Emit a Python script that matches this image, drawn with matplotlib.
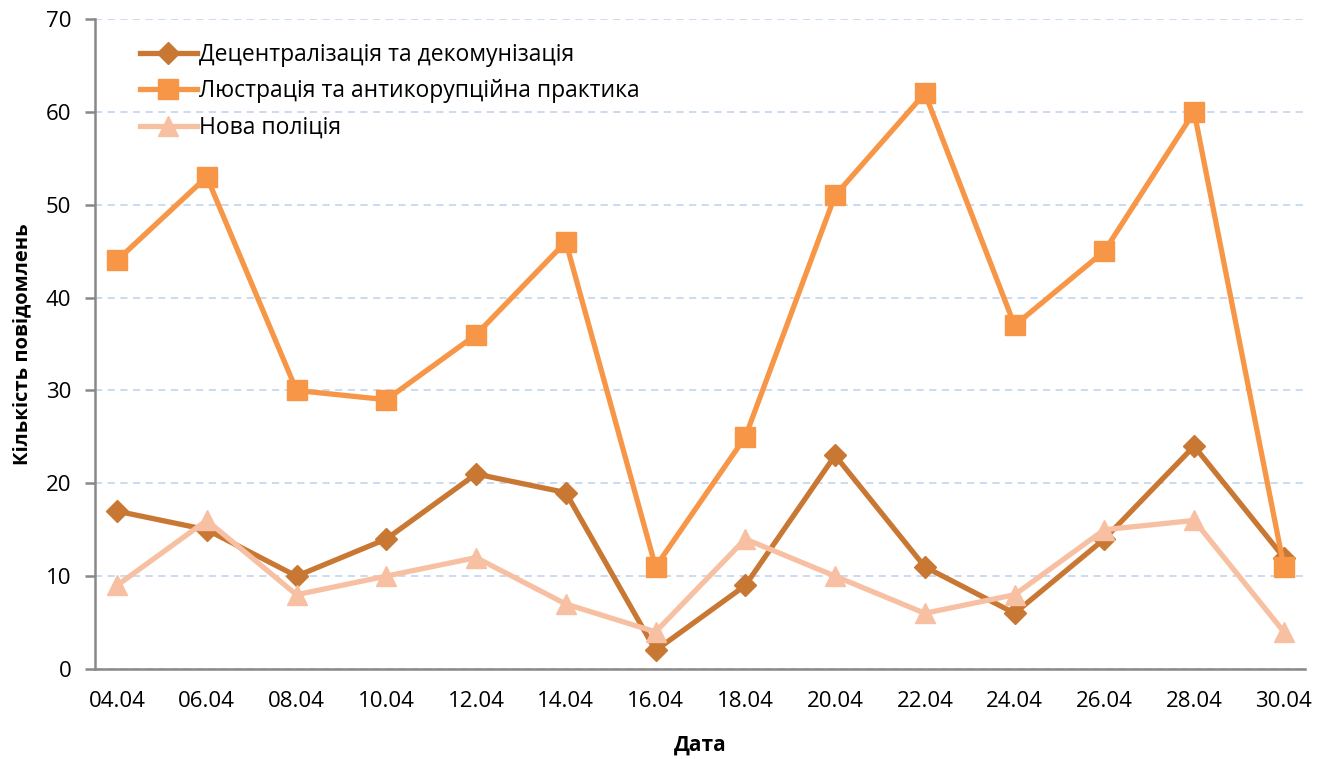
import matplotlib
matplotlib.use("Agg")
import numpy as np
import matplotlib.pyplot as plt

plt.rcParams['font.family'] = ['Open Sans', 'DejaVu Sans']

# data
dates = ['04.04', '06.04', '08.04', '10.04', '12.04', '14.04', '16.04',
         '18.04', '20.04', '22.04', '24.04', '26.04', '28.04', '30.04']
decentr = [17, 15, 10, 14, 21, 19, 2, 9, 23, 11, 6, 14, 24, 12]
lustr = [44, 53, 30, 29, 36, 46, 11, 25, 51, 62, 37, 45, 60, 11]
police = [9, 16, 8, 10, 12, 7, 4, 14, 10, 6, 8, 15, 16, 4]

names = ['Децентралізація та декомунізація',
         'Люстрація та антикорупційна практика',
         'Нова поліція']

fig = plt.figure(figsize=(13.32, 7.59), dpi=100)
ax = fig.add_axes([95/1332, 90/759, 1210/1332, 650/759])

x = np.arange(len(dates))
ax.plot(x, decentr, color='#C97834', lw=3.8, marker='D', ms=11, label=names[0], zorder=3)
ax.plot(x, lustr, color='#F79646', lw=3.8, marker='s', ms=14, label=names[1], zorder=4)
ax.plot(x, police, color='#F8C0A2', lw=3.8, marker='^', ms=15, label=names[2], zorder=5)

ax.set_ylim(0, 70)
ax.set_yticks(range(0, 71, 10))
ax.set_xlim(-0.245, 13.235)
ax.set_xticks(x)
ax.set_xticklabels(dates)

ax.grid(axis='y', color='#C6D9F1', ls=(0, (4, 3)), lw=1.3)
ax.set_axisbelow(True)
for s in ['top', 'right']:
    ax.spines[s].set_visible(False)
for s in ['left', 'bottom']:
    ax.spines[s].set_color('#888888')
    ax.spines[s].set_linewidth(1.8)
ax.tick_params(axis='y', length=7, width=1.8, color='#888888', labelsize=16, pad=10)
ax.tick_params(axis='x', length=0, labelsize=16, pad=16)

ax.set_xlabel('Дата', fontsize=15, fontweight='bold', labelpad=16)
ax.set_ylabel('Кількість повідомлень', fontsize=14.5, fontweight='bold', labelpad=10)

ax.legend(loc='upper left', bbox_to_anchor=(0.02, 0.995), frameon=False, fontsize=16.5,
          handlelength=2.5, handletextpad=0.1, labelspacing=0.55)

plt.savefig('out.png', dpi=100)
